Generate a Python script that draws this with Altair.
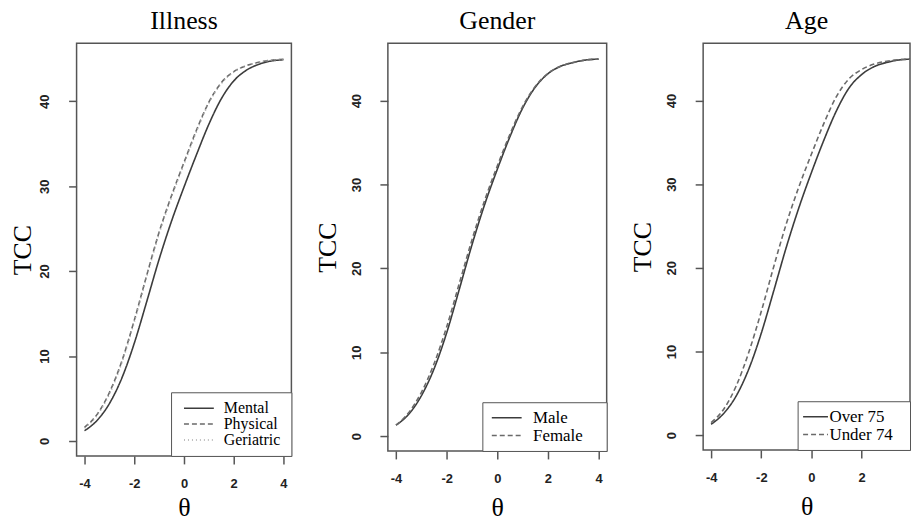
import altair as alt
import pandas as pd

theta = [-4, -3.5, -3, -2.5, -2, -1.5, -1, -0.5, 0, 0.5, 1, 1.5, 2, 2.5, 3, 3.5, 4]

# Illness
mental    = [1.2, 2.4, 4.4, 7.4, 11.5, 16.4, 21.4, 25.9, 29.9, 33.7, 37.3, 40.3, 42.4, 43.65, 44.35, 44.75, 44.9]
physical  = [1.6, 3.1, 5.7, 9.4, 14.2, 19.5, 24.6, 28.9, 32.8, 36.6, 39.9, 42.2, 43.5, 44.2, 44.6, 44.85, 44.95]
geriatric = [1.5, 3.0, 5.5, 9.2, 14.0, 19.3, 24.4, 28.7, 32.6, 36.4, 39.8, 42.1, 43.45, 44.2, 44.6, 44.85, 44.95]

# Gender
male   = [1.3, 2.6, 4.8, 8.0, 12.3, 17.5, 22.8, 27.6, 31.8, 35.7, 39.1, 41.6, 43.2, 44.1, 44.55, 44.85, 44.95]
female = [1.3, 2.8, 5.2, 8.6, 13.0, 18.2, 23.4, 28.1, 32.2, 36.0, 39.3, 41.7, 43.25, 44.1, 44.55, 44.85, 44.95]

# Age
over75  = [1.3, 2.6, 4.7, 7.9, 12.2, 17.3, 22.5, 27.2, 31.4, 35.3, 38.8, 41.5, 43.1, 44.05, 44.55, 44.85, 44.95]
under74 = [1.5, 3.1, 5.9, 9.9, 14.8, 20.2, 25.3, 29.7, 33.6, 37.3, 40.5, 42.6, 43.7, 44.35, 44.7, 44.88, 44.95]

x_ticks = [-4, -2, 0, 2, 4]
x_ticks_cut = [-4, -2, 0, 2]
y_ticks = [0, 10, 20, 30, 40]

SERIF = "Liberation Serif"
SANS = "Liberation Sans"


def panel(title, names, series, colors, dashes, width, height, xmax, xvals, ytp, xtp, leg_opts):
    rows = []
    for n, s in zip(names, series):
        for t, v in zip(theta, s):
            rows.append({"theta": t, "tcc": v, "group": n})
    df = pd.DataFrame(rows)
    leg = alt.Legend(
        title=None, orient="bottom-right", offset=0,
        strokeColor="#555555", fillColor="white",
        labelFont=SERIF, labelColor="black", labelLimit=400,
        symbolSize=100, symbolStrokeWidth=1.5, rowPadding=0,
        **leg_opts,
    )
    return alt.Chart(df).mark_line(strokeWidth=1.6, interpolate="monotone", clip=True).encode(
        x=alt.X("theta:Q", scale=alt.Scale(domain=[-4.32, xmax], nice=False, zero=False),
                axis=alt.Axis(values=xvals, title="θ", titlePadding=xtp,
                              labelExpr="datum.value + ''")),
        y=alt.Y("tcc:Q", scale=alt.Scale(domain=[-1.77, 46.85], nice=False, zero=False),
                axis=alt.Axis(values=y_ticks, title="TCC", titlePadding=ytp,
                              labelAngle=-90, labelAlign="center", labelBaseline="bottom")),
        color=alt.Color("group:N", scale=alt.Scale(domain=names, range=colors), legend=leg),
        strokeDash=alt.StrokeDash("group:N", scale=alt.Scale(domain=names, range=dashes), legend=leg),
        order=alt.Order("theta:Q"),
    ).properties(
        width=width, height=height,
        title=alt.TitleParams(title, font=SERIF, fontSize=26, fontWeight="normal",
                              color="black", anchor="middle", offset=9),
    )


p1 = panel("Illness", ["Mental", "Physical", "Geriatric"], [mental, physical, geriatric],
           ["#3c3c3c", "#6a6a6a", "#a8a8a8"], [[1, 0], [5, 3], [1, 3]],
           216, 415, 4.32, x_ticks, 3, 4,
           dict(padding=8, labelFontSize=16, symbolType="M-0.6,0H5.4M18.8,0", labelOffset=29))
p2 = panel("Gender", ["Male", "Female"], [male, female],
           ["#3c3c3c", "#6a6a6a"], [[1, 0], [5, 3]],
           220, 410, 4.32, x_ticks, 10, 9,
           dict(padding=7, labelFontSize=17, symbolType="M-1.2,0H4.8M19.8,0", labelOffset=27))
p3 = panel("Age", ["Over 75", "Under 74"], [over75, under74],
           ["#3c3c3c", "#6a6a6a"], [[1, 0], [5, 3]],
           208, 409, 3.93, x_ticks_cut, 10, 9,
           dict(padding=7, labelFontSize=17, symbolType="M-2,0H3M17.4,0", labelOffset=8))

chart = alt.hconcat(p1, p2, p3, spacing=20).resolve_scale(
    color="independent", strokeDash="independent"
).properties(
    padding={"left": 9, "top": 6, "right": 0, "bottom": 0},
    background="white",
).configure_view(
    stroke="#555555", strokeWidth=1.5
).configure_axis(
    grid=False, domain=False, ticks=True, tickSize=8, tickColor="#555555", tickWidth=1.5,
    labelFont=SANS, labelFontSize=13, labelFontWeight="bold", labelColor="#222222",
    labelPadding=14,
    titleFont=SERIF, titleFontSize=26, titleFontWeight="normal", titleColor="black",
).configure_axisY(
    labelPadding=17
)

chart.save("out.html", embed_options={"renderer": "svg", "actions": False})
